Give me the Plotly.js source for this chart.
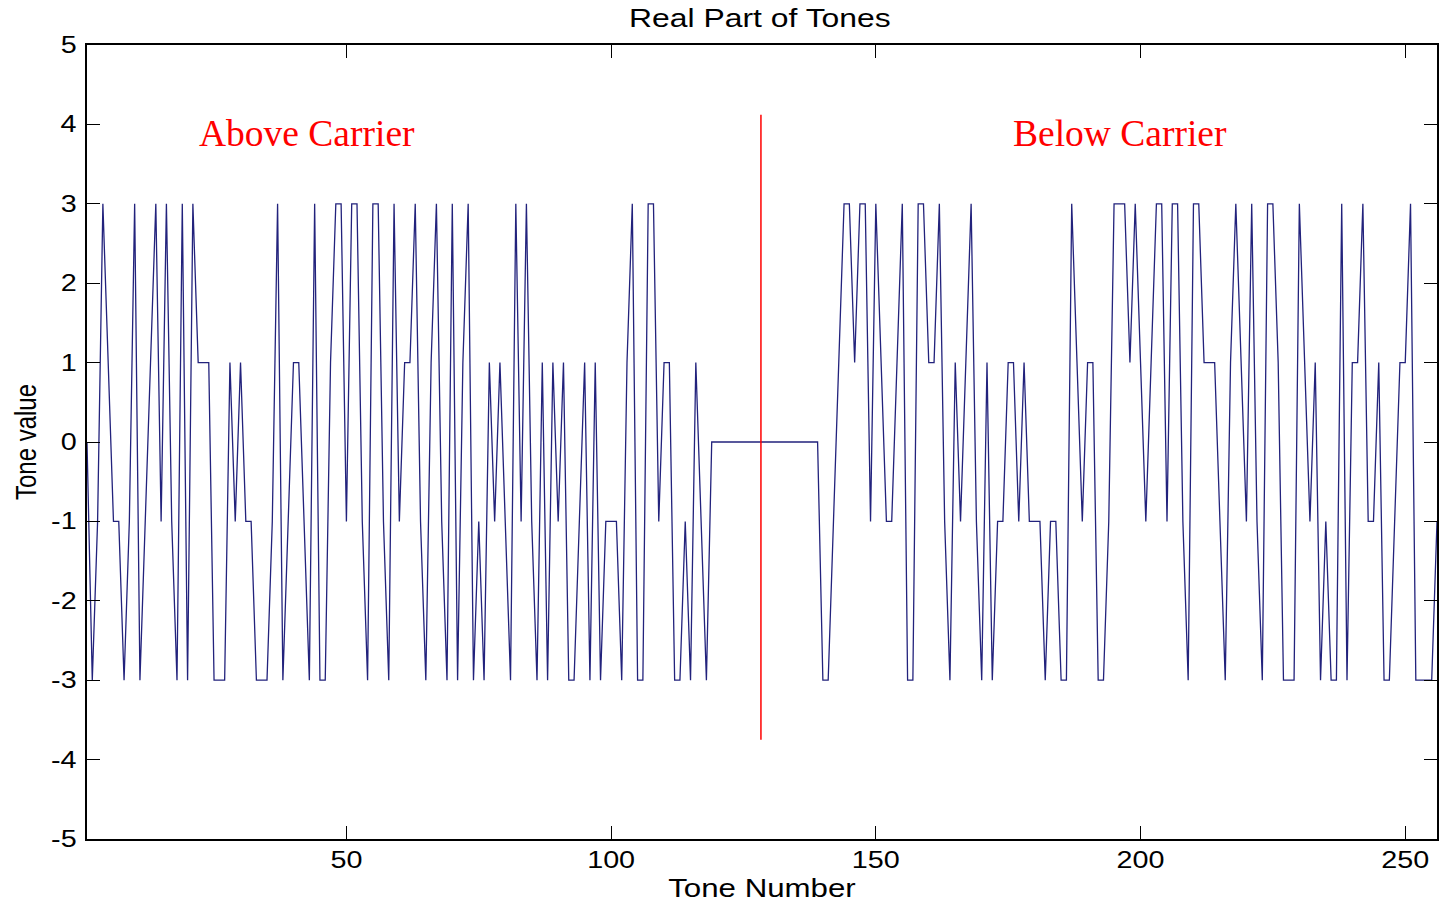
<!DOCTYPE html>
<html>
<head>
<meta charset="utf-8">
<script src="https://cdn.plot.ly/plotly-3.0.1.min.js"></script>
<style>
  html, body { margin: 0; padding: 0; background: #ffffff; }
  #chart { width: 1442px; height: 903px; }
</style>
</head>
<body>
<div id="chart"></div>
<script>
// Real part of each tone (tone numbers 1..256)
const toneValues = [
  0, -3, -1, 3, 1, -1, -1, -3, -1, 3,
  -3, -1, 1, 3, -1, 3, -1, -3, 3, -3,
  3, 1, 1, 1, -3, -3, -3, 1, -1, 1,
  -1, -1, -3, -3, -3, -1, 3, -3, -1, 1,
  1, -1, -3, 3, -3, -3, 1, 3, 3, -1,
  3, 3, -1, -3, 3, 3, -1, -3, 3, -1,
  1, 1, 3, -1, -3, 1, 3, -1, -3, 3,
  -3, 1, 3, -3, -1, -3, 1, -1, 1, -1,
  -3, 3, -1, 3, -1, -3, 1, -3, 1, -1,
  1, -3, -3, -1, 1, -3, 1, -3, -1, -1,
  -1, -3, 1, 3, -3, -3, 3, 3, -1, 1,
  1, -3, -3, -1, -3, 1, -1, -3, 0, 0,
  0, 0, 0, 0, 0, 0, 0, 0, 0, 0,
  0, 0, 0, 0, 0, 0, 0, 0, 0, -3,
  -3, -1, 1, 3, 3, 1, 3, 3, -1, 3,
  1, -1, -1, 1, 3, -3, -3, 3, 3, 1,
  1, 3, -1, -3, 1, -1, 1, 3, -1, -3,
  1, -3, -1, -1, 1, 1, -1, 1, -1, -1,
  -1, -3, -1, -1, -3, -3, 3, 1, -1, 1,
  1, -3, -3, -1, 3, 3, 3, 1, 3, 1,
  -1, 1, 3, 3, -1, 3, 3, -1, -3, 3,
  3, 1, 1, 1, -1, -3, 1, 3, 1, -1,
  3, -1, -3, 3, 3, 1, -3, -3, -3, 3,
  1, -1, 1, -3, -1, -3, -3, 3, -3, 1,
  1, 3, -1, -1, 1, -3, -3, -1, 1, 1,
  3, -3, -3, -3, -3, -1
];
const toneNumbers = toneValues.map((v, i) => i + 1);

// Carrier divider line (tone position and vertical extent)
const carrierX = [128.3, 128.3];
const carrierY = [-3.75, 4.12];

// Labels
const titleText = "Real Part of Tones";
const xTitle = "Tone Number";
const yTitle = "Tone value";
const labelTexts = ["Above Carrier", "Below Carrier"];
const labelX = [42.5, 196.2];
const labelY = [3.89, 3.89];
const xTickVals = [50, 100, 150, 200, 250];
const yTickVals = [-5, -4, -3, -2, -1, 0, 1, 2, 3, 4, 5];

const traces = [
  {
    x: toneNumbers, y: toneValues, type: 'scatter', mode: 'lines',
    line: { color: '#22227c', width: 1.3 },
    hoverinfo: 'x+y', showlegend: false
  },
  {
    x: carrierX, y: carrierY, type: 'scatter', mode: 'lines',
    line: { color: '#ff0000', width: 1.5 },
    hoverinfo: 'skip', showlegend: false
  }
];

const sansFam = 'Liberation Sans, Arial, sans-serif';
const tickFont = { family: sansFam, size: 23, color: '#000' };
const titleFont = { family: sansFam, size: 25.5, color: '#000' };

const layout = {
  width: 1442, height: 903,
  paper_bgcolor: '#ffffff', plot_bgcolor: '#ffffff',
  margin: { l: 87, r: 5, t: 45, b: 64, pad: 0 },
  showlegend: false,
  title: {
    text: titleText, x: 0.527, xanchor: 'center', y: 0.98, yanchor: 'middle',
    font: titleFont
  },
  xaxis: {
    range: [1, 256], tickvals: xTickVals, ticktext: xTickVals.map(String),
    ticks: 'inside', ticklen: 13, tickwidth: 1, tickcolor: '#000',
    showline: true, linecolor: '#000', linewidth: 1.5, mirror: 'ticks',
    showgrid: false, zeroline: false, automargin: false,
    tickfont: tickFont,
    title: { text: xTitle, font: { family: sansFam, size: 25, color: '#000' }, standoff: 7 }
  },
  yaxis: {
    range: [-5, 5], tickvals: yTickVals, ticktext: yTickVals.map(String),
    ticks: 'inside', ticklen: 13, tickwidth: 1, tickcolor: '#000',
    showline: true, linecolor: '#000', linewidth: 1.5, mirror: 'ticks',
    showgrid: false, zeroline: false, automargin: false,
    ticklabelstandoff: 4,
    tickfont: tickFont,
    title: { text: yTitle, font: { family: sansFam, size: 24, color: '#000' }, standoff: 15 }
  },
  annotations: labelTexts.map((t, i) => ({
    x: labelX[i], y: labelY[i], xref: 'x', yref: 'y', text: t, showarrow: false,
    xanchor: 'center', yanchor: 'middle',
    font: { family: 'Liberation Serif, Times New Roman, serif', size: 37.5, color: '#ff0000' }
  }))
};

// Widen the axis lettering horizontally, as in the original figure
function stretchText(el, sx, anchor) {
  const r = el.getBoundingClientRect();
  if (!r.width) return;
  const px = anchor === 'end' ? r.right : (r.left + r.right) / 2;
  const py = (r.top + r.bottom) / 2;
  const svg = el.ownerSVGElement;
  const pt = svg.createSVGPoint(); pt.x = px; pt.y = py;
  const q = pt.matrixTransform(el.parentNode.getScreenCTM().inverse());
  const old = el.getAttribute('transform') || '';
  el.setAttribute('transform',
    `translate(${q.x},${q.y}) scale(${sx},1) translate(${-q.x},${-q.y}) ${old}`);
}

Plotly.newPlot('chart', traces, layout, { displayModeBar: false, responsive: false }).then(gd => {
  const sx = 1.25;
  gd.querySelectorAll('.gtitle').forEach(el => stretchText(el, sx, 'middle'));
  gd.querySelectorAll('.xtick text').forEach(el => stretchText(el, sx, 'middle'));
  gd.querySelectorAll('.ytick text').forEach(el => stretchText(el, sx, 'end'));
  gd.querySelectorAll('.g-xtitle text').forEach(el => stretchText(el, sx, 'middle'));
  gd.querySelectorAll('.g-ytitle text').forEach(el => stretchText(el, sx, 'middle'));
});
</script>
</body>
</html>
